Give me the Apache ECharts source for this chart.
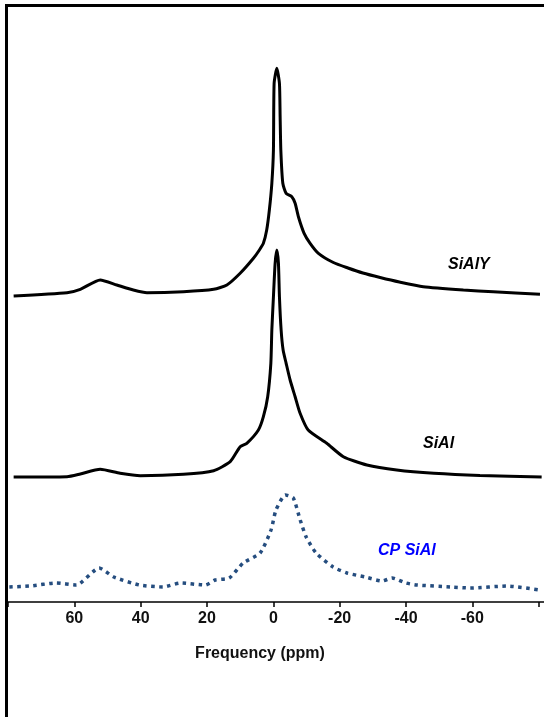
<!DOCTYPE html>
<html>
<head>
<meta charset="utf-8">
<script src="https://cdn.jsdelivr.net/npm/echarts@6/dist/echarts.min.js"></script>
<style>
html,body{margin:0;padding:0;background:#fff;}
#chart{width:544px;height:717px;}
</style>
</head>
<body>
<div id="chart"></div>
<script>
// Chemical shift (ppm) and intensity (arbitrary units)
const siAlYPpm = [78.3, 62.2, 58.2, 52.2, 47.2, 42.2, 38.1, 27.1, 18.0, 14.0, 10.0, 6.0, 4.2, 3.0, 2.0, 1.2, 0.45, -0.03, -0.24, -1.05, -1.84, -2.05, -2.26, -2.86, -3.86, -5.57, -6.57, -7.56, -9.28, -11.09, -13.59, -18.1, -22.5, -27.0, -32.2, -38.0, -45.2, -57.3, -66.3, -80.4];
const siAlYVal = [0, 3.3, 6.7, 16, 11, 6, 3.3, 4.3, 6.7, 11, 22.7, 37.7, 46, 52.7, 66, 86, 112.7, 146, 212.7, 227.7, 212.7, 179.3, 146, 112.7, 102.7, 99.3, 92.7, 79.3, 62.7, 52.7, 42.7, 33.5, 28, 23, 18.5, 14, 9.3, 6, 4.3, 1.7];

const siAlPpm = [78.3, 62.2, 58.2, 52.2, 46.2, 40.1, 27.1, 18.0, 13.0, 10.0, 8.0, 4.5, 3.0, 1.7, 0.75, 0.45, -0.03, -0.54, -1.05, -1.54, -1.84, -2.35, -2.95, -3.86, -5.06, -6.57, -8.07, -10.5, -16.1, -21.1, -28.2, -37.2, -48.4, -62.3, -80.9];
const siAlVal = [0, 0.3, 3, 7.7, 3.7, 1.3, 2.7, 6.3, 15.3, 30.3, 33.7, 47, 60.3, 80.3, 113.7, 147, 180.3, 213.7, 227, 213.7, 180.3, 147, 127, 113.7, 97, 80.3, 63.7, 47, 33.7, 20.3, 12, 7, 3.7, 1.5, 0];

const cpSiAlPpm = [79.6, 73.3, 65.5, 59.4, 52.5, 48.1, 40.4, 33.2, 28.1, 20.5, 17.5, 13.3, 9.1, 4.0, 0.7, -0.8, -3.6, -6.0, -8.1, -9.9, -12.9, -18.0, -22.2, -27.7, -32.8, -35.8, -40.0, -43.3, -53.6, -59.3, -70.4, -80.3];
const cpSiAlVal = [0, 1, 4, 2, 19, 10, 2, 0, 4, 2, 7, 9, 24, 34, 57, 77, 92, 89, 67, 50, 34, 20, 14, 10, 6, 9, 4, 2, 0, -1, 1, -3];

const seriesNames = ['SiAlY', 'SiAl', 'CP SiAl'];
const offsets = [306, 125, 15];   // vertical stacking of the spectra
const tickLabels = [60, 40, 20, 0, -20, -40, -60];

function pairs(xs, ys, off) { return xs.map((x, i) => [x, ys[i] + off]); }

const chart = echarts.init(document.getElementById('chart'), null, {renderer: 'canvas'});
const option = {
  backgroundColor: '#ffffff',
  animation: false,
  grid: {left: 8, top: 5, width: 597, height: 597, outerBoundsMode: 'none', containLabel: false},
  xAxis: {
    type: 'value', inverse: true, min: -100, max: 80, interval: 20,
    axisLine: {show: true, onZero: false, lineStyle: {color: '#000', width: 1.5}},
    axisTick: {show: true, length: 5, inside: false, lineStyle: {color: '#000', width: 1.5}},
    splitLine: {show: false},
    axisLabel: {
      margin: 9, color: '#111', fontFamily: 'Arial, "Liberation Sans", sans-serif',
      fontWeight: 'bold', fontSize: 16,
      formatter: v => tickLabels.indexOf(v) >= 0 ? String(v) : ''
    }
  },
  yAxis: {type: 'value', min: 0, max: 597, show: false},
  series: [
    {name: seriesNames[0], type: 'line', data: pairs(siAlYPpm, siAlYVal, offsets[0]), showSymbol: false, smooth: 0.2,
     lineStyle: {color: '#000', width: 3}},
    {name: seriesNames[1], type: 'line', data: pairs(siAlPpm, siAlVal, offsets[1]), showSymbol: false, smooth: 0.2,
     lineStyle: {color: '#000', width: 3}},
    {name: seriesNames[2], type: 'line', data: pairs(cpSiAlPpm, cpSiAlVal, offsets[2]), showSymbol: false, smooth: 0.2,
     lineStyle: {color: '#254d7f', width: 3.5, type: [3.5, 4.5], cap: 'butt'}}
  ],
  graphic: [
    {type: 'rect', shape: {x: 6.5, y: 5.5, width: 700, height: 800}, style: {fill: 'none', stroke: '#000', lineWidth: 3}, silent: true},
    {type: 'text', left: 448, top: 257, style: {text: seriesNames[0], font: 'italic bold 16px Arial, "Liberation Sans", sans-serif', fill: '#000'}},
    {type: 'text', left: 423, top: 436, style: {text: seriesNames[1], font: 'italic bold 16px Arial, "Liberation Sans", sans-serif', fill: '#000'}},
    {type: 'text', left: 378, top: 543, style: {text: seriesNames[2], font: 'italic bold 16px Arial, "Liberation Sans", sans-serif', fill: '#0000ff'}},
    {type: 'text', x: 260, y: 654, style: {text: 'Frequency (ppm)', font: 'bold 16px Arial, "Liberation Sans", sans-serif', fill: '#111', textAlign: 'center', textVerticalAlign: 'middle'}}
  ]
};
chart.setOption(option);
</script>
</body>
</html>
